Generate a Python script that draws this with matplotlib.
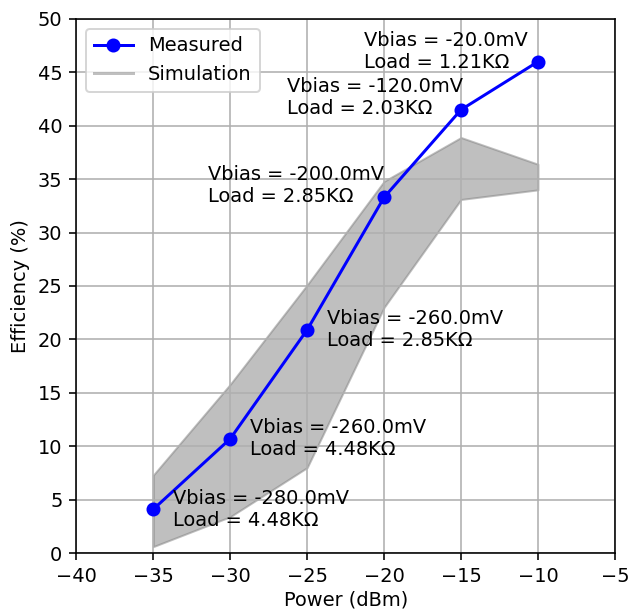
import numpy as np
import matplotlib
matplotlib.use("Agg")
import matplotlib.pyplot as plt
from matplotlib.lines import Line2D

power = [-35, -30, -25, -20, -15, -10]
measured = [4.1, 10.7, 20.9, 33.3, 41.5, 46.0]
sim_low = [0.6, 3.4, 8.0, 23.0, 33.1, 34.0]
sim_high = [7.3, 15.8, 25.1, 34.8, 38.9, 36.4]
vbias = [-280.0, -260.0, -260.0, -200.0, -120.0, -20.0]
load = [4.48, 4.48, 2.85, 2.85, 2.03, 1.21]
# text offsets (points) for each label
offsets = [(10, 0), (10, 0), (10, 0), (-88, 6), (-87, 6), (-87, 5)]


def main():
    dpi = 144
    plt.rcParams["font.size"] = 9.7
    fig = plt.figure(figsize=(630 / dpi, 611 / dpi), dpi=dpi)
    ax = fig.add_axes([0.1213, 0.0949, 0.976 - 0.1213, 0.969 - 0.0949])

    ax.fill_between(power, sim_low, sim_high, color="gray", alpha=0.5)
    ax.plot(power, measured, "o-", color="blue", label="Measured")

    for x, y, vb, ld, off in zip(power, measured, vbias, load, offsets):
        ax.annotate(f"Vbias = {vb}mV\nLoad = {ld:.2f}K\u03a9", (x, y),
                    xytext=off, textcoords="offset points",
                    ha="left", va="center")

    sim_handle = Line2D([], [], color="gray", alpha=0.5, lw=1.5)
    meas_handle = ax.get_lines()[0]
    ax.legend([meas_handle, sim_handle], ["Measured", "Simulation"], loc="upper left")

    ax.set_xlim(-40, -5)
    ax.set_ylim(0, 50)
    ax.set_yticks(np.arange(0, 51, 5))
    ax.set_xlabel("Power (dBm)", labelpad=2)
    ax.set_ylabel("Efficiency (%)")
    ax.grid(True)

    fig.savefig("out.png", dpi=dpi)


if __name__ == "__main__":
    main()
